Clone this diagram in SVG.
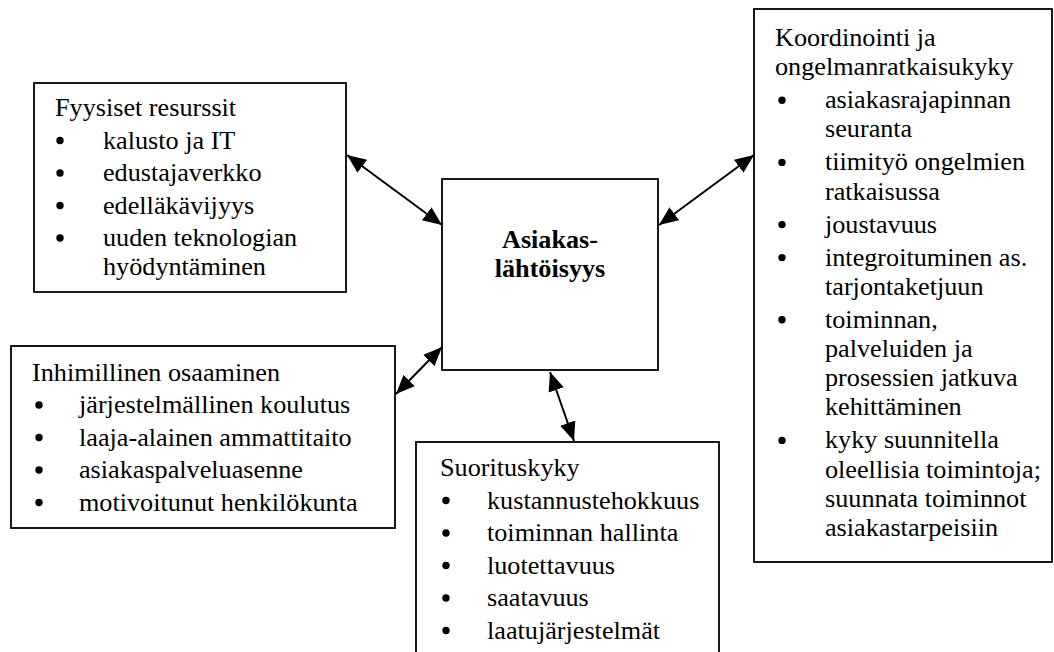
<svg xmlns="http://www.w3.org/2000/svg" width="1054" height="652" viewBox="0 0 1054 652">
  <defs>
    <style>
      .box { fill: #fff; stroke: #000; stroke-width: 1.8; }
      .t { font-size: 26.2px; fill: #000; }
      .b { font-size: 26.2px; font-weight: bold; fill: #000; text-anchor: middle; }
      .dot { fill: #000; }
      .link { stroke: #000; stroke-width: 2; fill: none; marker-start: url(#head); marker-end: url(#head); }
    </style>
    <marker id="head" markerUnits="userSpaceOnUse" markerWidth="21" markerHeight="18" refX="19" refY="8.5" orient="auto-start-reverse">
      <path d="M0,0.5 L19,8.5 L0,16.5 z" fill="#000"/>
    </marker>
  </defs>

  <rect width="1054" height="652" fill="#fff"/>

  <g font-family="'Liberation Serif', 'Times New Roman', Times, 'DejaVu Serif', serif">
  <!-- central concept -->
  <g id="center">
    <rect class="box" x="442" y="179" width="216" height="191"/>
    <text class="b" x="550" y="248">Asiakas-</text>
    <text class="b" x="550" y="277">lähtöisyys</text>
  </g>

  <!-- physical resources -->
  <g id="fyysiset">
    <rect class="box" x="34" y="83" width="312" height="209"/>
    <text class="t" x="55" y="116">Fyysiset resurssit</text>
    <circle class="dot" cx="60" cy="140.5" r="3.7"/>
    <text class="t" x="103" y="148.5">kalusto ja IT</text>
    <circle class="dot" cx="60" cy="173" r="3.7"/>
    <text class="t" x="103" y="181">edustajaverkko</text>
    <circle class="dot" cx="60" cy="205.5" r="3.7"/>
    <text class="t" x="103" y="213.5">edelläkävijyys</text>
    <circle class="dot" cx="60" cy="238" r="3.7"/>
    <text class="t" x="103" y="246">uuden teknologian</text>
    <text class="t" x="103" y="275">hyödyntäminen</text>
  </g>

  <!-- human competence -->
  <g id="inhimillinen">
    <rect class="box" x="11" y="346" width="384" height="182"/>
    <text class="t" x="32" y="380.5">Inhimillinen osaaminen</text>
    <circle class="dot" cx="39" cy="405" r="3.7"/>
    <text class="t" x="79" y="413">järjestelmällinen koulutus</text>
    <circle class="dot" cx="39" cy="437.5" r="3.7"/>
    <text class="t" x="79" y="445.5">laaja-alainen ammattitaito</text>
    <circle class="dot" cx="39" cy="470" r="3.7"/>
    <text class="t" x="79" y="478">asiakaspalveluasenne</text>
    <circle class="dot" cx="39" cy="502.5" r="3.7"/>
    <text class="t" x="79" y="510.5">motivoitunut henkilökunta</text>
  </g>

  <!-- performance -->
  <g id="suorituskyky">
    <rect class="box" x="416" y="442" width="303" height="240"/>
    <text class="t" x="440" y="476">Suorituskyky</text>
    <circle class="dot" cx="446" cy="500.5" r="3.7"/>
    <text class="t" x="487" y="508.5">kustannustehokkuus</text>
    <circle class="dot" cx="446" cy="533" r="3.7"/>
    <text class="t" x="487" y="541">toiminnan hallinta</text>
    <circle class="dot" cx="446" cy="565.5" r="3.7"/>
    <text class="t" x="487" y="573.5">luotettavuus</text>
    <circle class="dot" cx="446" cy="598" r="3.7"/>
    <text class="t" x="487" y="606">saatavuus</text>
    <circle class="dot" cx="446" cy="630.5" r="3.7"/>
    <text class="t" x="487" y="638.5">laatujärjestelmät</text>
  </g>

  <!-- coordination and problem solving -->
  <g id="koordinointi">
    <rect class="box" x="754" y="9" width="298" height="553"/>
    <text class="t" x="775" y="46">Koordinointi ja</text>
    <text class="t" x="775" y="75.2">ongelmanratkaisukyky</text>
    <circle class="dot" cx="782" cy="100.2" r="3.7"/>
    <text class="t" x="825" y="108.2">asiakasrajapinnan</text>
    <text class="t" x="825" y="137.4">seuranta</text>
    <circle class="dot" cx="782" cy="162.4" r="3.7"/>
    <text class="t" x="825" y="170.4">tiimityö ongelmien</text>
    <text class="t" x="825" y="199.6">ratkaisussa</text>
    <circle class="dot" cx="782" cy="224.6" r="3.7"/>
    <text class="t" x="825" y="232.6">joustavuus</text>
    <circle class="dot" cx="782" cy="257.6" r="3.7"/>
    <text class="t" x="825" y="265.6">integroituminen as.</text>
    <text class="t" x="825" y="294.8">tarjontaketjuun</text>
    <circle class="dot" cx="782" cy="319.8" r="3.7"/>
    <text class="t" x="825" y="327.8">toiminnan,</text>
    <text class="t" x="825" y="357">palveluiden ja</text>
    <text class="t" x="825" y="386.2">prosessien jatkuva</text>
    <text class="t" x="825" y="415.4">kehittäminen</text>
    <circle class="dot" cx="782" cy="440.4" r="3.7"/>
    <text class="t" x="825" y="448.4">kyky suunnitella</text>
    <text class="t" x="825" y="477.6">oleellisia toimintoja;</text>
    <text class="t" x="825" y="506.8">suunnata toiminnot</text>
    <text class="t" x="825" y="536">asiakastarpeisiin</text>
  </g>
  </g>

  <!-- two-way links -->
  <g id="connectors">
    <line class="link" x1="347" y1="155" x2="442" y2="225"/>
    <line class="link" x1="659" y1="225" x2="754" y2="155"/>
    <line class="link" x1="396" y1="394" x2="442" y2="347"/>
    <line class="link" x1="550" y1="372" x2="574" y2="441"/>
  </g>
</svg>
